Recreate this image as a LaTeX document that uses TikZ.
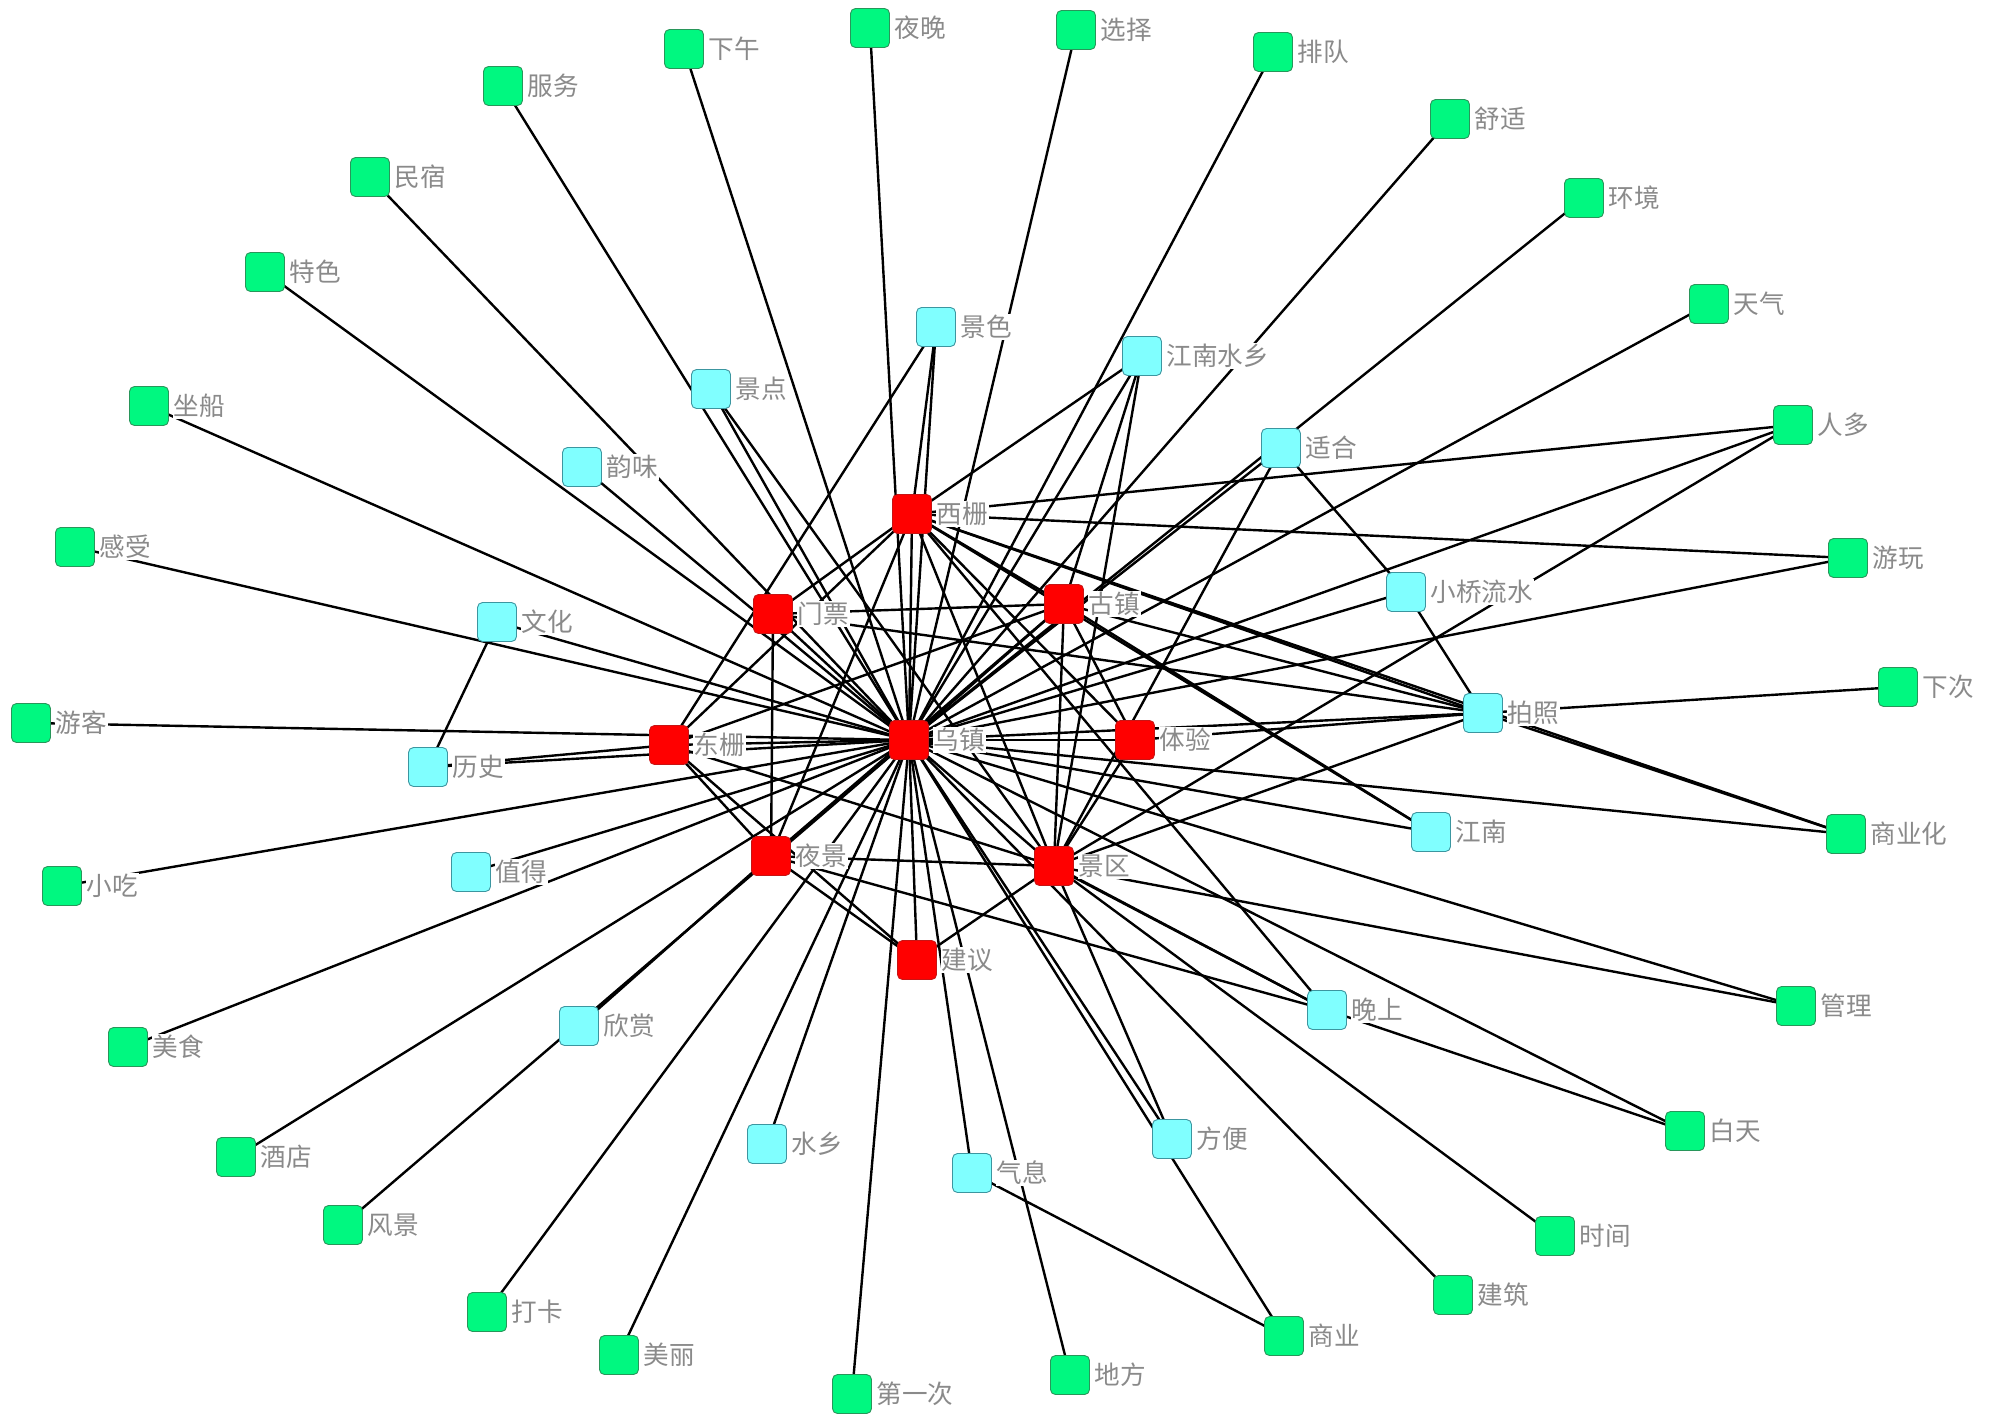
\documentclass[tikz,border=0pt]{standalone}
\usepackage{fontspec}
\usepackage{tikz}
\newfontfamily\cjk{Noto Sans CJK SC}
\pgfdeclarelayer{bg}
\pgfdeclarelayer{edges}
\pgfsetlayers{bg,edges,main}
\definecolor{rfill}{RGB}{255,0,0}
\definecolor{rdraw}{RGB}{200,20,20}
\definecolor{cfill}{RGB}{128,255,255}
\definecolor{cdraw}{RGB}{60,150,160}
\definecolor{gfill}{RGB}{0,248,128}
\definecolor{gdraw}{RGB}{40,150,90}
\definecolor{lblgray}{RGB}{138,138,138}
\newcommand\kwnode[5]{%
  \node[#4] (#1) at (#2,#3) {};
  \node[lbl] (#1-l) at ([xshift=1.6pt]#1.east) {#5};
}
\tikzset{
  box/.style={rectangle, rounded corners=2.5pt, minimum size=19.5pt, inner sep=0pt, line width=0.45pt},
  rnode/.style={box, fill=rfill, draw=rdraw},
  cnode/.style={box, fill=cfill, draw=cdraw},
  gnode/.style={box, fill=gfill, draw=gdraw},
  lbl/.style={anchor=west, fill=white, inner sep=0.6pt, text=lblgray, font=\cjk\fontsize{12.8pt}{14pt}\selectfont},
  edge/.style={line width=1.2pt, black},
}
\begin{document}
\begin{tikzpicture}[x=0.5pt,y=-0.5pt]
\begin{pgfonlayer}{bg}
\fill[white] (0,0) rectangle (2000,1414);
\end{pgfonlayer}
\useasboundingbox (0,0) rectangle (2000,1414);
% red nodes
\kwnode{wz}{909}{740}{rnode}{乌镇}
\kwnode{xs}{912}{514}{rnode}{西栅}
\kwnode{mp}{773}{614}{rnode}{门票}
\kwnode{gz}{1064}{604}{rnode}{古镇}
\kwnode{dz}{669}{745}{rnode}{东栅}
\kwnode{ty}{1135}{740}{rnode}{体验}
\kwnode{yj}{771}{856}{rnode}{夜景}
\kwnode{jq}{1054}{866}{rnode}{景区}
\kwnode{jy}{917}{960}{rnode}{建议}
% cyan nodes
\kwnode{js}{936}{327}{cnode}{景色}
\kwnode{jnsx}{1142}{356}{cnode}{江南水乡}
\kwnode{jd}{711}{389}{cnode}{景点}
\kwnode{sh}{1281}{448}{cnode}{适合}
\kwnode{yw}{582}{467}{cnode}{韵味}
\kwnode{xqls}{1406}{592}{cnode}{小桥流水}
\kwnode{wh}{497}{622}{cnode}{文化}
\kwnode{pz}{1483}{713}{cnode}{拍照}
\kwnode{ls}{428}{767}{cnode}{历史}
\kwnode{jn}{1431}{832}{cnode}{江南}
\kwnode{zd}{471}{872}{cnode}{值得}
\kwnode{ws}{1327}{1010}{cnode}{晚上}
\kwnode{xsh}{579}{1026}{cnode}{欣赏}
\kwnode{fb}{1172}{1139}{cnode}{方便}
\kwnode{sx}{767}{1144}{cnode}{水乡}
\kwnode{qx}{972}{1173}{cnode}{气息}
% green nodes
\kwnode{xw}{684}{49}{gnode}{下午}
\kwnode{yww}{870}{28}{gnode}{夜晚}
\kwnode{xz}{1076}{30}{gnode}{选择}
\kwnode{pd}{1273}{52}{gnode}{排队}
\kwnode{fw}{503}{86}{gnode}{服务}
\kwnode{ssh}{1450}{119}{gnode}{舒适}
\kwnode{ms}{370}{177}{gnode}{民宿}
\kwnode{hj}{1584}{198}{gnode}{环境}
\kwnode{ts}{265}{272}{gnode}{特色}
\kwnode{tq}{1709}{304}{gnode}{天气}
\kwnode{zc}{149}{406}{gnode}{坐船}
\kwnode{rd}{1793}{425}{gnode}{人多}
\kwnode{gs}{75}{547}{gnode}{感受}
\kwnode{ywan}{1848}{558}{gnode}{游玩}
\kwnode{yk}{31}{723}{gnode}{游客}
\kwnode{xc}{1898}{687}{gnode}{下次}
\kwnode{syh}{1846}{834}{gnode}{商业化}
\kwnode{xch}{62}{886}{gnode}{小吃}
\kwnode{gl}{1796}{1006}{gnode}{管理}
\kwnode{msh}{128}{1047}{gnode}{美食}
\kwnode{bt}{1685}{1131}{gnode}{白天}
\kwnode{jdn}{236}{1157}{gnode}{酒店}
\kwnode{sj}{1555}{1236}{gnode}{时间}
\kwnode{fj}{343}{1225}{gnode}{风景}
\kwnode{jz}{1453}{1295}{gnode}{建筑}
\kwnode{dk}{487}{1312}{gnode}{打卡}
\kwnode{sy}{1284}{1336}{gnode}{商业}
\kwnode{ml}{619}{1355}{gnode}{美丽}
\kwnode{df}{1070}{1375}{gnode}{地方}
\kwnode{dyc}{852}{1394}{gnode}{第一次}
\begin{pgfonlayer}{edges}
\foreach \a/\b in {wz/xw, wz/yww, wz/xz, wz/pd, wz/fw, wz/ms, wz/ts, wz/zc, wz/gs, wz/yk,
  wz/xch, wz/msh, wz/jdn, wz/fj, wz/dk, wz/ml, wz/dyc, wz/sx, wz/qx, wz/df, wz/sy, wz/fb,
  wz/jz, wz/bt, wz/gl, wz/syh, wz/ywan, wz/rd, wz/tq, wz/ssh, wz/hj, wz/sh, wz/jn, wz/xqls,
  wz/pz, wz/zd, wz/wh, wz/ls, wz/yw, wz/jd, wz/js, wz/jnsx, wz/xs, wz/mp, wz/gz, wz/dz,
  wz/ty, wz/yj, wz/jq, wz/jy,
  xs/mp, xs/gz, xs/jnsx, xs/js, xs/rd, xs/ywan, xs/pz, xs/syh, xs/jn, xs/ws, xs/yj, xs/dz,
  xs/ty, xs/jq,
  mp/gz, mp/yj, mp/pz, js/dz,
  gz/jnsx, gz/ty, gz/jq, gz/pz, gz/jn, gz/dz, gz/yj,
  dz/yj, dz/jy, dz/jq, dz/ls,
  jnsx/jq, sh/xqls, xqls/pz, sh/jq, wh/ls,
  yj/jq, yj/jy, yj/ws, yj/xsh,
  jq/jy, jq/ty, jq/fb, jq/sj, jq/gl, jq/ws, jq/pz, jq/rd, jq/jd,
  ws/bt, qx/sy, ty/pz, pz/xc, pz/syh}
  \draw[edge] (\a.center) -- (\b.center);
\draw[edge] ([xshift=3pt,yshift=-2pt]jq.center) -- (ws.center);
\end{pgfonlayer}
\end{tikzpicture}
\end{document}
